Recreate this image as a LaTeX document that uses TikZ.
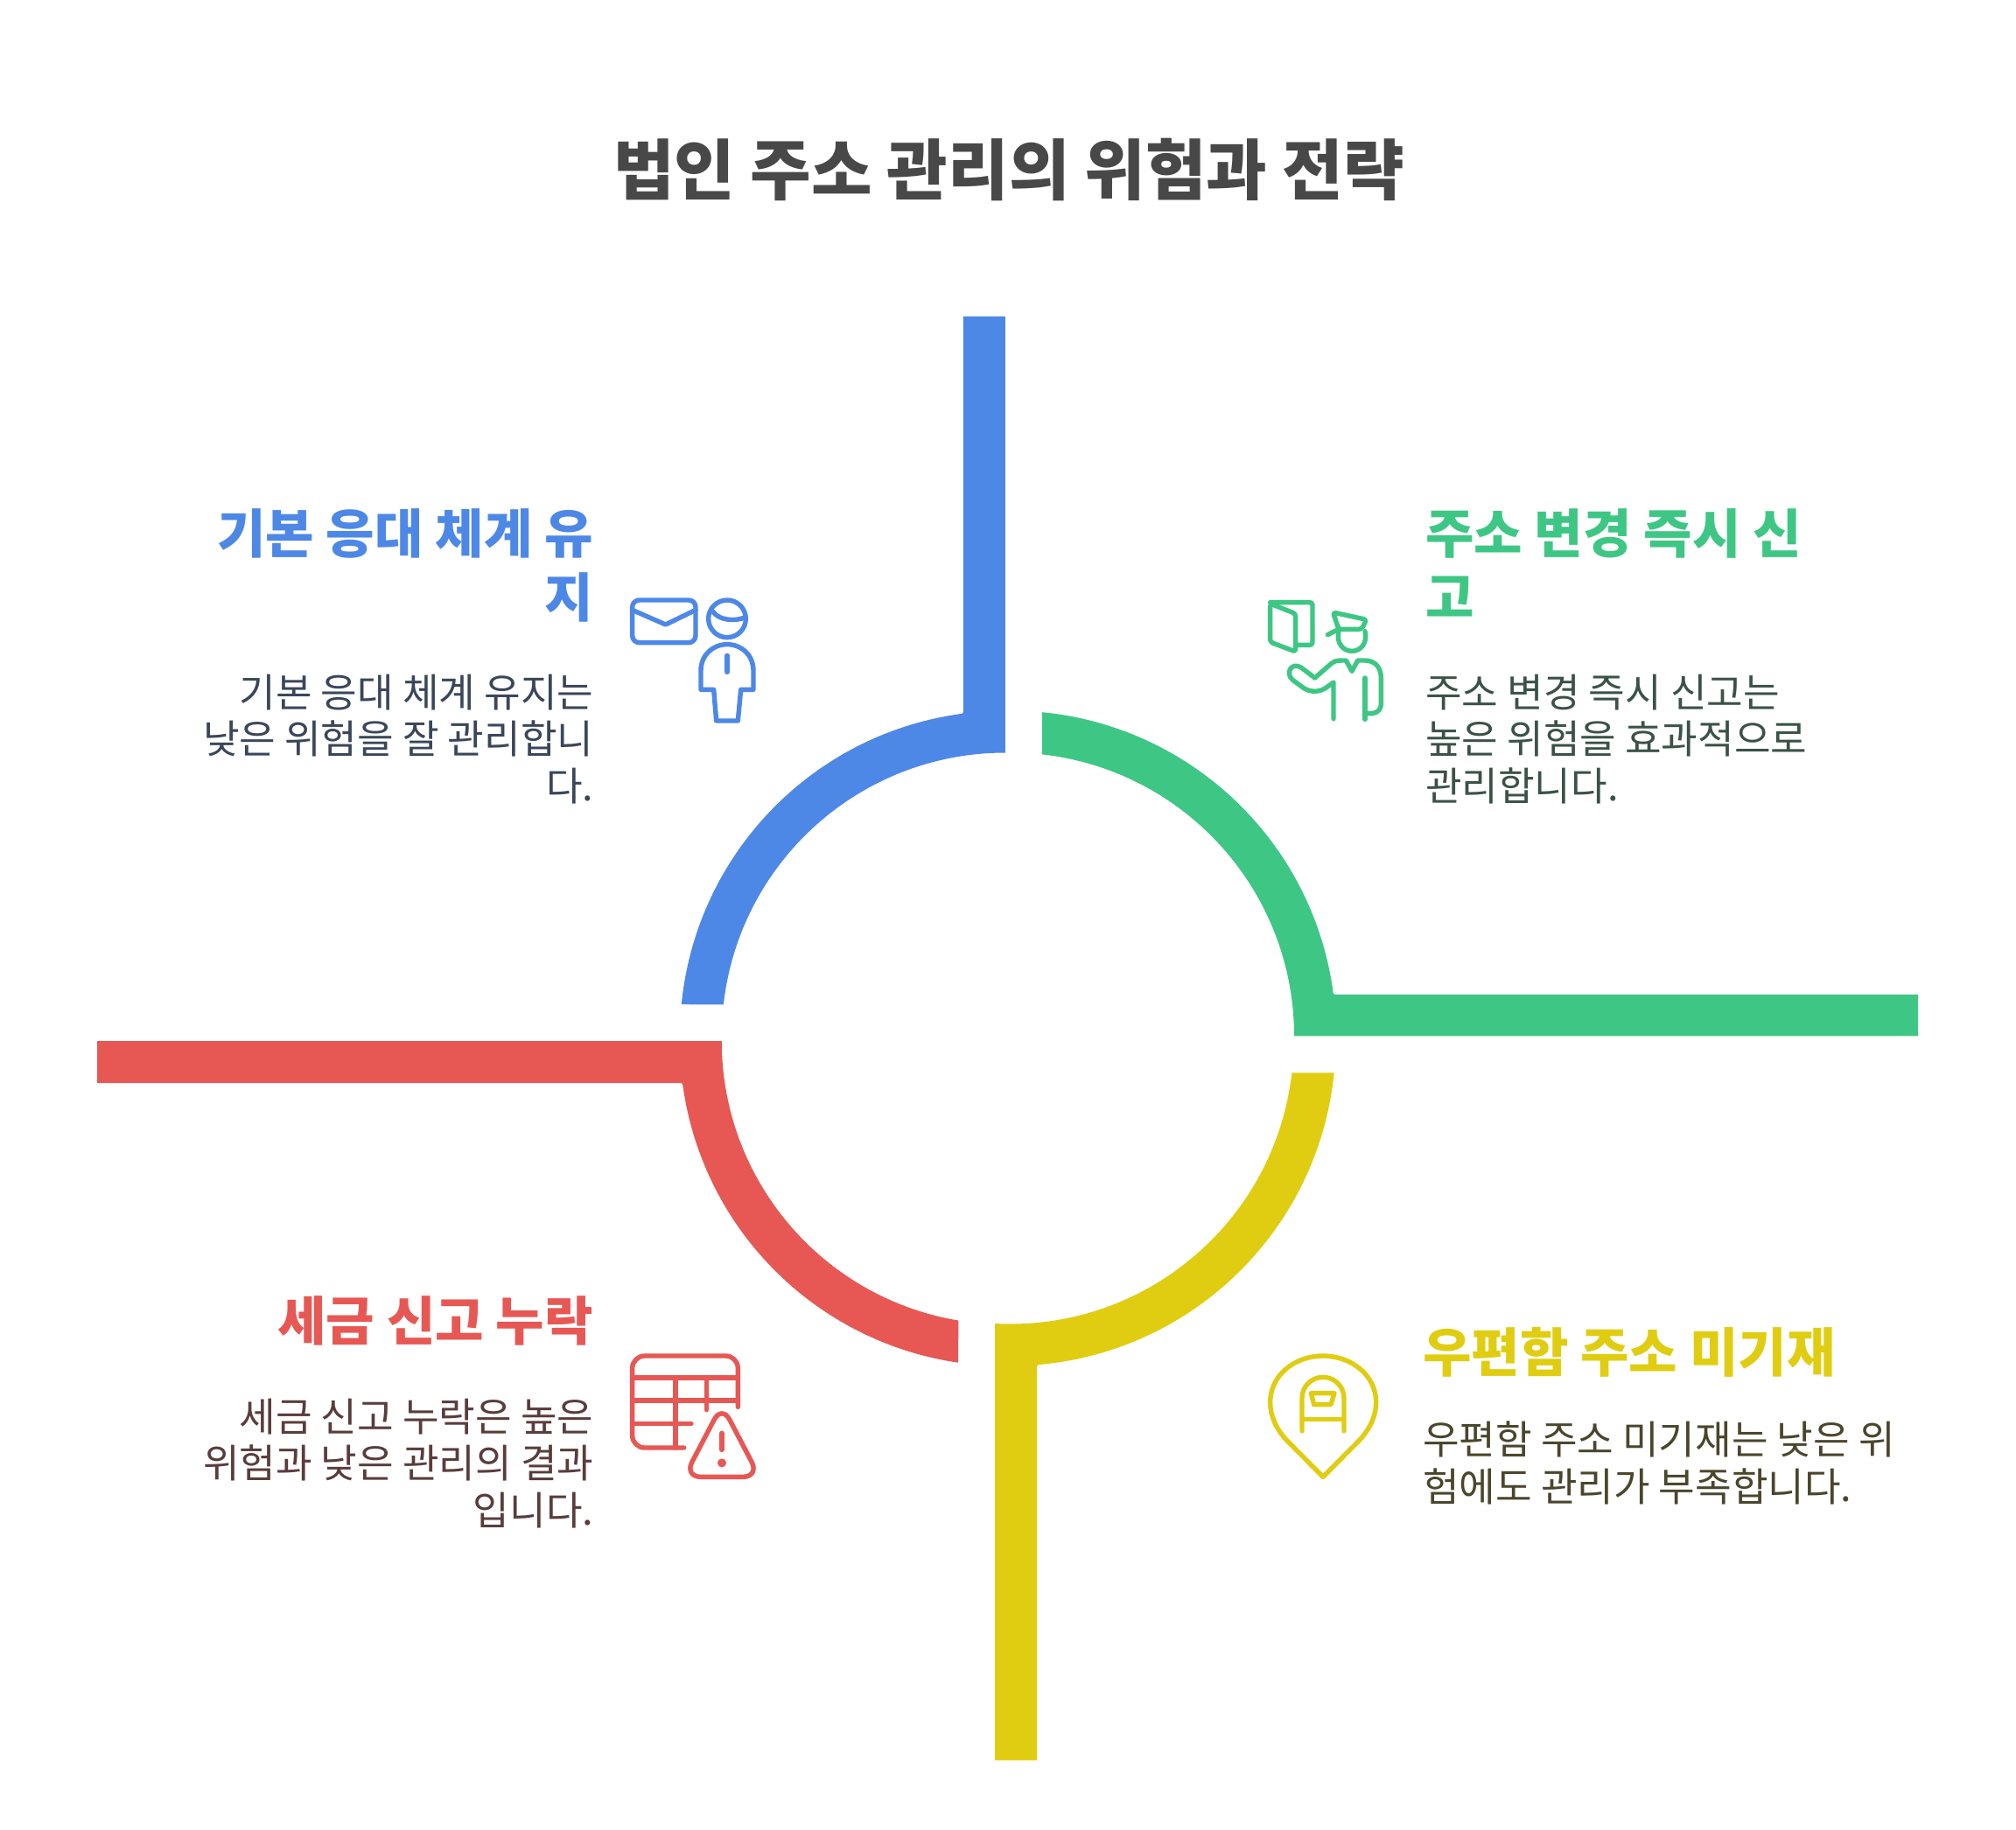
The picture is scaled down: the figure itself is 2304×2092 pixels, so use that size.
\documentclass[tikz,border=0pt]{standalone}
\usepackage{fontspec}
\setmainfont{Noto Sans CJK KR}
\definecolor{cblue}{HTML}{4E88E7}
\definecolor{cgreen}{HTML}{3EC784}
\definecolor{cyellow}{HTML}{E0CD12}
\definecolor{cred}{HTML}{E75854}
\definecolor{tblue}{HTML}{3A465A}
\definecolor{tgreen}{HTML}{3A5248}
\definecolor{tyellow}{HTML}{4A462C}
\definecolor{tred}{HTML}{5A3C3C}
\definecolor{ttitle}{HTML}{484848}
\tikzset{
  titletext/.style={inner sep=0,font=\fontsize{75.6}{90}\selectfont\bfseries,text=ttitle},
  headtext/.style={inner sep=0,font=\fontsize{60.3}{72.5}\selectfont\bfseries},
  bodytext/.style={inner sep=0,font=\fontsize{45.2}{53.6}\selectfont},
  iconline/.style={line width=5.4pt,line cap=round,line join=round,fill=none},
  zoomgrid/.style={shift={#1},x=0.33333pt,y=-0.33333pt},
}
\begin{document}
\begin{tikzpicture}[x=1pt,y=-1pt]
\useasboundingbox (0,0) rectangle (2304,2092);
\fill[white] (0,0) rectangle (2304,2092);

% ring segments
\fill[cblue] (1100.8,361.5) -- (1148.8,361.5) -- (1148.8,860.5)
  arc[start angle=270,end angle=186.4,radius=324]
  -- ([shift={(185.6:372)}]1149,1184.5)
  arc[start angle=185.6,end angle=261.9,radius=372]
  .. controls (1100.8,815.8) .. (1100.8,811) -- cycle;
\fill[cgreen] ([shift={(275.55:372)}]1155,1184.4)
  arc[start angle=275.55,end angle=352,radius=372]
  .. controls (1523.5,1136.8) .. (1529,1136.8)
  -- (2192,1136.8) -- (2192,1184.4) -- (1479,1184.4)
  arc[start angle=360,end angle=276.4,radius=324] -- cycle;
\fill[cyellow] ([shift={(5.69:372)}]1154.5,1189.5)
  arc[start angle=5.69,end angle=84.6,radius=372]
  .. controls (1185,1560.2) .. (1185,1565)
  -- (1185,2012.3) -- (1137,2012.3) -- (1137,1513)
  arc[start angle=93.1,end angle=6.54,radius=324] -- cycle;
\fill[cred] (111,1190) -- (824.8,1190)
  arc[start angle=180,end angle=99.5,radius=324]
  -- ([shift={(98.3:372)}]1148.8,1189.6)
  arc[start angle=98.3,end angle=171.8,radius=372]
  .. controls (780,1238) .. (775,1238) -- (111,1238) -- cycle;

% texts
\node[titletext,anchor=north] (title) at (1153,157.5) {법인 주소 관리의 위험과 전략};
\node[headtext,text=cblue,anchor=north east,align=right] (bluehead) at (678,581.5) {기본 응대 체계 유\\지};
\node[bodytext,text=tblue,anchor=north east,align=right] (bluebody) at (678.5,770.5) {기본 응대 체계 유지는\\낮은 위험을 잘 관리합니\\다.};
\node[headtext,text=cgreen,anchor=north west,align=left] (greenhead) at (1629,581.5) {주소 변경 즉시 신\\고};
\node[bodytext,text=tgreen,anchor=north west,align=left] (greenbody) at (1629,770.5) {주소 변경 즉시 신고는\\높은 위험을 효과적으로\\관리합니다.};
\node[headtext,text=cyellow,anchor=north west,align=left] (yellowhead) at (1626,1517) {우편함 주소 미기재};
\node[bodytext,text=tyellow,anchor=north west,align=left] (yellowbody) at (1626,1625) {우편함 주소 미기재는 낮은 위\\험에도 관리가 부족합니다.};
\node[headtext,text=cred,anchor=north east,align=right] (redhead) at (678,1481.5) {세금 신고 누락};
\node[bodytext,text=tred,anchor=north east,align=right] (redbody) at (678.5,1598.5) {세금 신고 누락은 높은\\위험과 낮은 관리의 결과\\입니다.};

% icon: envelope and person
\begin{scope}[zoomgrid={(700,660)},iconline,draw=cblue]
  \draw[rounded corners=8pt] (68,78) rectangle (285,224);
  \draw (68,112) -- (182,162) -- (285,112);
  \draw (393,142) circle[radius=64];
  \draw (345,118) .. controls (365,148) and (420,152) .. (455,137);
  \draw (303,385) -- (303,320) .. controls (303,265) and (345,230) .. (393,230)
        .. controls (441,230) and (483,265) .. (483,320) -- (483,385) -- (440,385)
        -- (430,492) -- (356,492) -- (347,385) -- cycle;
  \draw (393,268) -- (393,325);
\end{scope}

% icon: door and officer
\begin{scope}[zoomgrid={(1420,660)},iconline,draw=cgreen]
  \draw[rounded corners=3pt] (95,90) -- (95,222) -- (182,255) -- (182,125) -- cycle;
  \draw[rounded corners=3pt] (95,86) -- (240,86) -- (240,232) -- (185,232);
  \draw[rounded corners=3pt] (310,120) -- (425,145) -- (408,178) -- (330,178) -- cycle;
  \draw (292,197) -- (330,178);
  \draw (330,185) .. controls (320,225) and (345,253) .. (375,253)
        .. controls (405,253) and (430,225) .. (420,185);
  \draw (312,485) -- (312,360) -- (290,376) .. controls (265,395) and (235,395) .. (210,380)
        -- (172,352) .. controls (145,328) and (168,288) .. (202,310)
        -- (248,345) -- (305,295) .. controls (318,283) and (340,285) .. (355,285)
        -- (375,322) -- (395,285) -- (420,285) .. controls (455,285) and (475,310) .. (475,345)
        -- (475,435) .. controls (475,460) and (450,472) .. (422,466);
  \draw (420,345) -- (420,487);
\end{scope}

% icon: mailbox pin
\begin{scope}[zoomgrid={(1420,1520)},iconline,draw=cyellow]
  \draw (276,505) -- (150,378) .. controls (115,340) and (95,295) .. (95,250)
        .. controls (95,155) and (180,90) .. (276,90)
        .. controls (372,90) and (458,155) .. (458,250)
        .. controls (458,295) and (437,340) .. (402,378) -- cycle;
  \draw (204,347) -- (204,235) .. controls (204,195) and (236,163) .. (276,163)
        .. controls (316,163) and (348,195) .. (348,235) -- (348,347);
  \draw (204,307) -- (348,307);
  \draw (235,218) -- (315,218) -- (303,257) -- (245,257) -- cycle;
\end{scope}

% icon: table and warning
\begin{scope}[zoomgrid={(700,1520)},iconline,draw=cred]
  \draw[rounded corners=14pt] (245,405) -- (68,405) -- (68,90) -- (430,90) -- (430,265);
  \draw (68,165) -- (430,165);
  \draw (68,243) -- (430,243);
  \draw (68,322) -- (270,322);
  \draw (216,165) -- (216,405);
  \draw (322,165) -- (322,275);
  \draw[rounded corners=19pt] (375,258) -- (504,505) -- (246,505) -- cycle;
  \draw (375,355) -- (375,412);
  \fill[cred] (375,457) circle[radius=15];
\end{scope}
\end{tikzpicture}
\end{document}
